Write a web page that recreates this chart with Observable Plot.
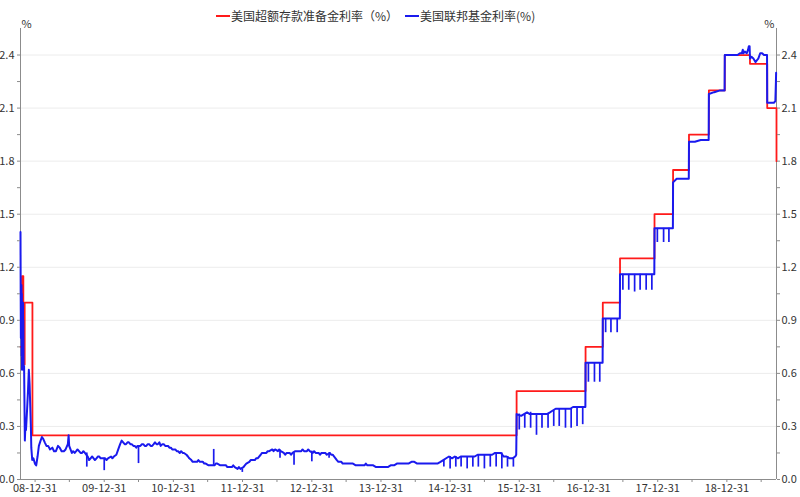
<!DOCTYPE html>
<html>
<head>
<meta charset="utf-8">
<script src="https://cdn.jsdelivr.net/npm/d3@7"></script>
<script src="https://cdn.jsdelivr.net/npm/@observablehq/plot@0.6"></script>
<style>
  html, body { margin: 0; padding: 0; background: #fff; }
  #wrap { position: relative; width: 800px; height: 497px; font-family: "Noto Sans CJK SC", "Open Sans", sans-serif; }
  #legend { position: absolute; top: 7px; left: 216px; display: flex; align-items: center; font-size: 12px; color: #333; white-space: nowrap; }
  .item { display: flex; align-items: center; margin-right: 7px; }
  .sw { width: 14px; height: 2px; margin-right: 1px; }
</style>
</head>
<body>
<div id="wrap">
  <div id="legend">
    <div class="item"><span class="sw" style="background:#ff1a1a"></span><span>美国超额存款准备金利率（%）</span></div>
    <div class="item"><span class="sw" style="background:#1a1aee"></span><span>美国联邦基金利率(%)</span></div>
  </div>
  <div id="chart"></div>
</div>
<script>
// ---- data ----
const seriesNames = ["美国超额存款准备金利率（%）", "美国联邦基金利率(%)"];

// Interest on excess reserves (step series: date, rate from that date)
const ioer = [
  ["2008-10-15", 0.75], ["2008-10-23", 1.15], ["2008-10-30", 0.65], ["2008-11-06", 1.00],
  ["2008-12-17", 0.25], ["2015-12-17", 0.50], ["2016-12-15", 0.75], ["2017-03-16", 1.00],
  ["2017-06-15", 1.25], ["2017-12-14", 1.50], ["2018-03-22", 1.75], ["2018-06-14", 1.95],
  ["2018-09-27", 2.20], ["2018-12-20", 2.40], ["2019-05-02", 2.35], ["2019-08-01", 2.10],
  ["2019-09-19", 1.80]
];

// Effective federal funds rate (base path)
const fedFunds = [
  ["2008-10-15",1.40],["2008-10-16",1.05],["2008-10-17",0.80],["2008-10-20",1.10],["2008-10-21",0.70],
  ["2008-10-22",1.05],["2008-10-23",0.62],["2008-10-24",0.95],["2008-10-27",0.75],["2008-10-28",1.00],
  ["2008-10-29",0.65],["2008-10-30",0.90],["2008-10-31",0.62],["2008-11-03",0.64],["2008-11-07",0.22],
  ["2008-11-10",0.31],["2008-11-13",0.28],["2008-11-19",0.40],["2008-11-24",0.51],["2008-11-28",0.62],
  ["2008-12-02",0.54],["2008-12-06",0.40],["2008-12-09",0.29],["2008-12-11",0.18],["2008-12-16",0.11],
  ["2008-12-22",0.12],["2008-12-30",0.09],["2009-01-06",0.08],["2009-01-13",0.13],["2009-01-20",0.19],
  ["2009-01-29",0.22],["2009-02-05",0.24],["2009-02-12",0.23],["2009-02-20",0.21],["2009-03-01",0.19],
  ["2009-03-10",0.19],["2009-03-20",0.17],["2009-04-01",0.18],["2009-04-10",0.16],["2009-04-20",0.16],
  ["2009-05-01",0.19],["2009-05-10",0.18],["2009-05-20",0.16],["2009-06-01",0.16],["2009-06-10",0.17],
  ["2009-06-22",0.20],["2009-06-26",0.25],["2009-06-29",0.19],["2009-07-06",0.17],["2009-07-13",0.15],
  ["2009-07-20",0.16],["2009-07-28",0.15],["2009-08-05",0.16],["2009-08-12",0.17],["2009-08-20",0.16],
  ["2009-08-28",0.15],["2009-09-05",0.15],["2009-09-12",0.16],["2009-09-20",0.15],["2009-10-05",0.13],
  ["2009-10-12",0.11],["2009-10-20",0.12],["2009-10-28",0.13],["2009-11-05",0.12],["2009-11-12",0.11],
  ["2009-11-20",0.12],["2009-11-28",0.13],["2009-12-05",0.13],["2009-12-12",0.12],["2009-12-20",0.12],
  ["2010-01-05",0.12],["2010-01-12",0.11],["2010-01-20",0.12],["2010-02-05",0.13],["2010-02-12",0.12],
  ["2010-02-20",0.13],["2010-03-05",0.14],["2010-03-15",0.17],["2010-03-25",0.20],["2010-04-02",0.22],
  ["2010-04-10",0.21],["2010-04-18",0.20],["2010-04-25",0.20],["2010-05-03",0.21],["2010-05-10",0.21],
  ["2010-05-18",0.20],["2010-05-25",0.20],["2010-06-03",0.19],["2010-06-10",0.19],["2010-06-18",0.18],
  ["2010-06-25",0.19],["2010-07-10",0.19],["2010-07-18",0.20],["2010-07-25",0.20],["2010-08-02",0.19],
  ["2010-08-10",0.19],["2010-08-18",0.20],["2010-08-25",0.20],["2010-09-02",0.19],["2010-09-10",0.19],
  ["2010-09-18",0.20],["2010-09-25",0.21],["2010-10-03",0.20],["2010-10-10",0.20],["2010-10-18",0.21],
  ["2010-10-25",0.19],["2010-11-03",0.20],["2010-11-10",0.20],["2010-11-18",0.19],["2010-11-25",0.19],
  ["2010-12-03",0.19],["2010-12-10",0.18],["2010-12-18",0.18],["2010-12-25",0.17],
  ["2011-01-10",0.17],["2011-01-18",0.16],["2011-01-25",0.16],["2011-02-03",0.15],["2011-02-10",0.16],
  ["2011-02-18",0.15],["2011-02-25",0.15],["2011-03-10",0.14],["2011-03-18",0.13],["2011-03-25",0.12],
  ["2011-04-05",0.11],["2011-04-12",0.10],["2011-04-20",0.10],["2011-05-05",0.10],["2011-05-12",0.11],
  ["2011-05-20",0.10],["2011-06-05",0.10],["2011-06-12",0.09],["2011-06-20",0.09],["2011-07-05",0.08],
  ["2011-07-12",0.08],["2011-07-20",0.08],["2011-08-05",0.08],["2011-08-12",0.09],["2011-08-20",0.09],
  ["2011-09-05",0.08],["2011-09-12",0.08],["2011-09-20",0.08],["2011-10-05",0.08],["2011-10-12",0.07],
  ["2011-10-20",0.07],["2011-11-05",0.07],["2011-11-12",0.08],["2011-11-20",0.07],["2011-12-05",0.06],
  ["2011-12-12",0.07],["2011-12-20",0.06],["2012-01-05",0.07],["2012-01-12",0.08],["2012-01-20",0.09],
  ["2012-02-05",0.10],["2012-02-12",0.11],["2012-02-20",0.11],["2012-03-05",0.11],["2012-03-12",0.12],
  ["2012-03-20",0.12],["2012-04-05",0.14],["2012-04-12",0.15],["2012-04-20",0.15],["2012-05-05",0.15],
  ["2012-05-12",0.16],["2012-05-20",0.16],["2012-06-05",0.17],["2012-06-12",0.16],["2012-06-20",0.17],
  ["2012-07-05",0.16],["2012-07-12",0.17],["2012-07-20",0.16],["2012-08-05",0.15],["2012-08-12",0.14],
  ["2012-08-20",0.15],["2012-09-05",0.15],["2012-09-12",0.14],["2012-09-20",0.15],["2012-10-05",0.16],
  ["2012-10-12",0.16],["2012-10-20",0.16],["2012-11-05",0.16],["2012-11-12",0.17],["2012-11-20",0.16],
  ["2012-12-05",0.16],["2012-12-12",0.17],["2012-12-20",0.16],["2013-01-05",0.15],["2013-01-12",0.16],
  ["2013-01-20",0.15],["2013-02-05",0.15],["2013-02-12",0.14],["2013-02-20",0.15],["2013-03-05",0.15],
  ["2013-03-12",0.15],["2013-03-20",0.14],["2013-04-05",0.15],["2013-04-12",0.14],["2013-04-20",0.14],
  ["2013-05-05",0.12],["2013-05-12",0.11],["2013-05-20",0.10],["2013-06-05",0.10],["2013-06-12",0.09],
  ["2013-06-20",0.09],["2013-07-05",0.09],["2013-07-20",0.09],["2013-08-05",0.09],["2013-08-20",0.08],
  ["2013-09-05",0.08],["2013-09-20",0.08],["2013-10-05",0.08],["2013-10-12",0.09],["2013-10-20",0.08],
  ["2013-11-05",0.08],["2013-11-20",0.08],["2013-12-05",0.07],["2013-12-20",0.07],["2014-01-05",0.07],
  ["2014-01-20",0.07],["2014-02-05",0.07],["2014-02-20",0.08],["2014-03-10",0.08],["2014-03-25",0.09],
  ["2014-04-10",0.09],["2014-04-25",0.09],["2014-05-10",0.09],["2014-05-25",0.09],["2014-06-10",0.10],
  ["2014-06-25",0.10],["2014-07-10",0.09],["2014-07-25",0.09],["2014-08-10",0.09],["2014-08-25",0.09],
  ["2014-09-10",0.09],["2014-09-25",0.09],["2014-10-10",0.09],["2014-10-25",0.09],["2014-11-10",0.10],
  ["2014-11-25",0.11],["2014-12-10",0.12],["2014-12-25",0.13],["2015-01-10",0.12],["2015-01-25",0.13],
  ["2015-02-10",0.12],["2015-02-25",0.13],["2015-03-10",0.13],["2015-03-25",0.13],["2015-04-10",0.13],
  ["2015-04-25",0.13],["2015-05-10",0.13],["2015-05-25",0.14],["2015-06-10",0.14],["2015-06-25",0.14],
  ["2015-07-10",0.14],["2015-07-25",0.14],["2015-08-10",0.14],["2015-08-25",0.15],["2015-09-10",0.15],
  ["2015-09-25",0.15],["2015-10-10",0.13],["2015-10-25",0.13],["2015-11-10",0.12],["2015-11-25",0.12],
  ["2015-12-10",0.13],["2015-12-15",0.14],["2015-12-16",0.24],["2015-12-17",0.37],["2016-01-10",0.36],
  ["2016-01-25",0.37],["2016-02-10",0.38],["2016-02-25",0.37],["2016-03-10",0.37],["2016-03-25",0.37],
  ["2016-04-10",0.37],["2016-04-25",0.37],["2016-05-10",0.37],["2016-05-25",0.37],["2016-06-10",0.38],
  ["2016-06-25",0.39],["2016-07-10",0.40],["2016-07-25",0.40],["2016-08-10",0.40],["2016-08-25",0.40],
  ["2016-09-10",0.40],["2016-09-25",0.40],["2016-10-10",0.41],["2016-10-25",0.41],["2016-11-10",0.41],
  ["2016-11-25",0.41],["2016-12-14",0.41],["2016-12-15",0.66],["2017-01-10",0.66],["2017-02-10",0.66],
  ["2017-03-15",0.66],["2017-03-16",0.91],["2017-04-15",0.91],["2017-05-15",0.91],["2017-06-14",0.91],
  ["2017-06-15",1.16],["2017-08-01",1.16],["2017-10-01",1.16],["2017-12-13",1.16],["2017-12-14",1.42],
  ["2018-02-01",1.42],["2018-03-21",1.42],["2018-03-22",1.68],["2018-04-10",1.70],["2018-05-10",1.70],
  ["2018-06-13",1.70],["2018-06-14",1.91],["2018-07-15",1.91],["2018-08-15",1.92],["2018-09-26",1.92],
  ["2018-09-27",2.18],["2018-10-25",2.19],["2018-11-25",2.20],["2018-12-19",2.20],["2018-12-20",2.40],
  ["2019-01-25",2.40],["2019-02-25",2.40],["2019-03-10",2.41],["2019-03-20",2.41],["2019-03-25",2.43],
  ["2019-03-28",2.41],["2019-04-05",2.42],["2019-04-15",2.41],["2019-04-22",2.43],["2019-04-26",2.45],
  ["2019-04-30",2.45],["2019-05-02",2.38],["2019-05-10",2.39],["2019-05-20",2.38],["2019-05-31",2.36],
  ["2019-06-07",2.37],["2019-06-15",2.38],["2019-06-25",2.41],["2019-07-05",2.41],["2019-07-15",2.40],
  ["2019-07-31",2.40],["2019-08-01",2.13],["2019-08-15",2.13],["2019-09-05",2.13],["2019-09-13",2.14],
  ["2019-09-16",2.25],["2019-09-17",2.30]
];

// One-day spikes of the federal funds rate (date, low, high)
const fedSpikes = [
  ["2009-09-30",0.07,0.15],["2009-12-31",0.05,0.12],["2010-06-30",0.09,0.19],["2011-08-01",0.08,0.17],
  ["2011-12-30",0.04,0.06],["2012-07-16",0.12,0.16],["2012-09-28",0.08,0.15],["2012-12-31",0.10,0.16],
  ["2013-04-01",0.12,0.15],
  ["2014-11-28",0.07,0.11],["2014-12-31",0.06,0.13],["2015-01-30",0.07,0.13],["2015-02-27",0.07,0.13],
  ["2015-03-31",0.06,0.13],["2015-04-30",0.07,0.13],["2015-05-29",0.07,0.14],["2015-06-30",0.06,0.14],
  ["2015-07-31",0.07,0.14],["2015-08-31",0.07,0.15],["2015-09-30",0.06,0.15],["2015-10-30",0.07,0.13],
  ["2015-11-30",0.07,0.12],
  ["2015-12-31",0.28,0.37],["2016-01-29",0.29,0.37],["2016-02-29",0.29,0.38],["2016-03-31",0.25,0.37],
  ["2016-04-29",0.29,0.37],["2016-05-31",0.29,0.37],["2016-06-30",0.30,0.39],["2016-07-29",0.30,0.40],
  ["2016-08-31",0.29,0.40],["2016-09-30",0.29,0.40],["2016-10-31",0.30,0.41],["2016-11-30",0.31,0.41],
  ["2016-12-30",0.55,0.66],["2017-01-31",0.55,0.66],["2017-02-28",0.55,0.66],
  ["2017-03-31",0.83,0.91],["2017-04-28",0.83,0.91],["2017-05-31",0.83,0.91],
  ["2017-06-30",1.07,1.16],["2017-07-31",1.07,1.16],["2017-08-31",1.06,1.16],["2017-09-29",1.07,1.16],
  ["2017-10-31",1.07,1.16],["2017-11-30",1.07,1.16],
  ["2017-12-29",1.34,1.42],["2018-01-31",1.34,1.42],["2018-02-28",1.34,1.42]
];

// axis ticks
const xTickLabels = ["2008-12-31","2009-12-31","2010-12-31","2011-12-31","2012-12-31","2013-12-31",
                     "2014-12-31","2015-12-31","2016-12-31","2017-12-31","2018-12-31"];
const xMinorTicks = ["2009-06-30","2010-06-30","2011-06-30","2012-06-30","2013-06-30","2014-06-30",
                     "2015-06-30","2016-06-30","2017-06-30","2018-06-30","2019-06-30"];
const yTicks = [0, 0.3, 0.6, 0.9, 1.2, 1.5, 1.8, 2.1, 2.4];
const yMinorTicks = [0.15, 0.45, 0.75, 1.05, 1.35, 1.65, 1.95, 2.25];
const xDomain = ["2008-10-15", "2019-09-19"];
const yDomain = [0, 2.55];

// ---- build ----
const P = d3.utcParse("%Y-%m-%d");
const ioerRows = ioer.map(([d, v]) => ({date: P(d), value: v}));
const fedRows = fedFunds.map(([d, v]) => ({date: P(d), value: v}));
const spikeRows = fedSpikes.map(([d, lo, hi]) => ({date: P(d), lo, hi}));
const xMajor = xTickLabels.map(P);
const xMinor = xMinorTicks.map(P);

const RED = "#ff1a1a", BLUE = "#1a1aee", AXIS = "#8c8c8c", TXT = "#333";
const font = '"Noto Sans CJK SC", "Open Sans", sans-serif';

const chart = Plot.plot({
  width: 800,
  height: 497,
  marginTop: 28,
  marginBottom: 18,
  marginLeft: 20,
  marginRight: 24,
  style: {fontFamily: font, fontSize: "11px", color: TXT, background: "#fff"},
  x: {type: "utc", domain: xDomain.map(P)},
  y: {domain: yDomain},
  marks: [
    Plot.gridY(yTicks.slice(1), {stroke: "#ececec", strokeOpacity: 1}),
    Plot.ruleX([P(xDomain[0]), P(xDomain[1])], {stroke: AXIS, strokeWidth: 1}),
    Plot.ruleY([0], {stroke: AXIS, strokeWidth: 1}),
    Plot.line(ioerRows, {x: "date", y: "value", curve: "step-after", stroke: RED, strokeWidth: 1.8}),
    Plot.ruleX(spikeRows, {x: "date", y1: "lo", y2: "hi", stroke: BLUE, strokeWidth: 1.7}),
    Plot.line(fedRows, {x: "date", y: "value", stroke: BLUE, strokeWidth: 2}),
    Plot.axisY(yTicks, {anchor: "left", tickSize: 3, tickPadding: 3, stroke: AXIS, fill: TXT, tickFormat: d3.format(".1f"), label: null}),
    Plot.axisY(yMinorTicks, {anchor: "left", tickSize: 3, stroke: AXIS, tickFormat: () => "", label: null}),
    Plot.axisY(yTicks, {anchor: "right", tickSize: 3, tickPadding: 2, stroke: AXIS, fill: TXT, tickFormat: d3.format(".1f"), label: null}),
    Plot.axisY(yMinorTicks, {anchor: "right", tickSize: 3, stroke: AXIS, tickFormat: () => "", label: null}),
    Plot.axisX(xMajor, {anchor: "bottom", tickSize: 3, tickPadding: 2, stroke: AXIS, fill: TXT, tickFormat: d3.utcFormat("%y-%m-%d"), label: null}),
    Plot.axisX(xMinor, {anchor: "bottom", tickSize: 3, stroke: AXIS, tickFormat: () => "", label: null}),
    Plot.text(["%"], {frameAnchor: "top-left", textAnchor: "start", lineAnchor: "middle", dx: 1, dy: -4, fill: TXT, fontSize: 11}),
    Plot.text(["%"], {frameAnchor: "top-right", textAnchor: "end", lineAnchor: "middle", dx: -2, dy: -4, fill: TXT, fontSize: 11})
  ]
});
document.getElementById("chart").appendChild(chart);
</script>
</body>
</html>
